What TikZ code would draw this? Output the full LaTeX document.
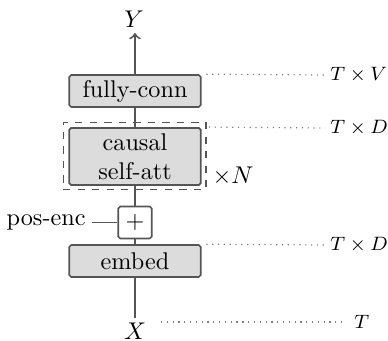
\documentclass[tikz,border=0pt]{standalone}
\usetikzlibrary{arrows}
\definecolor{boxfill}{HTML}{DCDCDC}
\definecolor{linec}{HTML}{555555}
\begin{document}
\begin{tikzpicture}[x=0.4132pt,y=-0.4132pt,
  blk/.style={draw=linec,fill=boxfill,line width=0.7pt,rounded corners=0.8pt,minimum width=54.3pt,inner sep=0pt,align=center},
  conn/.style={draw=linec,line width=0.8pt},
  dimline/.style={draw=gray,dash pattern=on 0.5pt off 1.9pt,line width=0.5pt},
  lbl/.style={inner sep=0pt},
  dimlbl/.style={inner sep=0pt,anchor=west,font=\footnotesize}]
\useasboundingbox (0,0) rectangle (388,341);
\node[blk,minimum height=13.2pt] (fc) at (135,91) {fully-conn};
\node[blk,minimum height=23.6pt] (att) at (135,156.5) {causal\\self-att};
\node[draw=linec,dashed,line width=0.5pt,minimum width=59pt,minimum height=28pt,inner sep=0pt] (rep) at (134.5,156) {};
\node[draw=linec,fill=white,line width=0.7pt,rounded corners=0.8pt,minimum width=13.8pt,minimum height=13.2pt,inner sep=0pt] (plus) at (135,222.5) {$+$};
\node[blk,minimum height=13.2pt] (emb) at (135,261) {embed};
\node[lbl] (Y) at (134,19) {$Y$};
\node[lbl] (X) at (135,331) {$X$};
\coordinate (xtop) at (135,318);
\coordinate (ytip) at (135,33);
\node[lbl,anchor=east] (pe) at (86,222.5) {pos-enc};
\node[lbl] (N) at (233,176) {$\times N$};
% connectors
\draw[conn] (emb.south) -- (xtop);
\draw[conn] (emb.north) -- (plus.south);
\draw[conn] (plus.north) -- (att.south);
\draw[conn] (att.north) -- (fc.south);
\draw[conn,-to] (fc.north) -- (ytip);
\draw[conn] ([xshift=2.6pt]pe.east) -- (plus.west);
% dimensions
\node[dimlbl] (dv) at (330,75) {$T\times V$};
\node[dimlbl] (dd1) at (330,128) {$T\times D$};
\node[dimlbl] (dd2) at (330,245) {$T\times D$};
\node[dimlbl] (dt) at (354,322) {$T$};
\draw[dimline] ([xshift=2pt]fc.north east) -- ([xshift=-2pt]dv.west);
\draw[dimline] ([xshift=1pt]rep.east |- att.north) -- ([xshift=-2pt]dd1.west);
\draw[dimline] ([xshift=2pt]emb.north east) -- ([xshift=-2pt]dd2.west);
\draw[dimline] ([xshift=6pt]X.east |- dt.west) -- ([xshift=-3pt]dt.west);
\end{tikzpicture}
\end{document}
